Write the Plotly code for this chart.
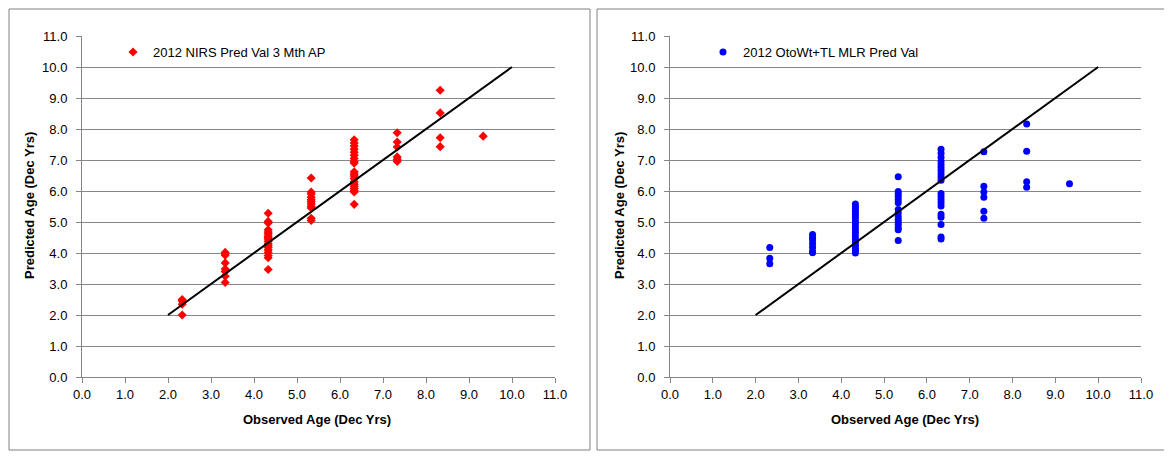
import plotly.graph_objects as go

# page body has an 8px margin; figure fills the rest of the 1172x457 window
OFF = 8
W, H = 1164, 449

# Observed age classes (Dec Yrs)
obs_ages = [2.33, 3.33, 4.33, 5.33, 6.33, 7.33, 8.33, 9.33]

# 2012 NIRS Pred Val 3 Mth AP: predicted ages per observed age class
nirs_pred = [
    [2.5, 2.45, 2.35, 2.0],
    [4.02, 3.97, 3.93, 3.68, 3.48, 3.40, 3.25, 3.05],
    [5.28, 5.02, 4.97, 4.75, 4.68, 4.62, 4.55, 4.50, 4.45, 4.38, 4.30, 4.25,
     4.18, 4.10, 4.02, 3.92, 3.85, 3.47],
    [6.42, 5.97, 5.90, 5.80, 5.72, 5.65, 5.58, 5.50, 5.45, 5.12, 5.05],
    [7.65, 7.55, 7.45, 7.35, 7.25, 7.15, 7.05, 6.95, 6.90, 6.62, 6.55, 6.48,
     6.40, 6.30, 6.22, 6.15, 6.08, 6.02, 5.97, 5.57],
    [7.88, 7.58, 7.42, 7.10, 7.02, 6.95],
    [9.25, 8.52, 7.72, 7.43],
    [7.77],
]

# 2012 OtoWt+TL MLR Pred Val: predicted ages per observed age class
mlr_pred = [
    [4.18, 3.83, 3.65],
    [4.60, 4.50, 4.42, 4.30, 4.18, 4.05, 4.01],
    [5.58, 5.50, 5.42, 5.35, 5.25, 5.15, 5.05, 4.95, 4.85, 4.75, 4.65, 4.55,
     4.45, 4.35, 4.25, 4.15, 4.07, 4.00],
    [6.46, 5.98, 5.90, 5.82, 5.72, 5.62, 5.40, 5.30, 5.18, 5.08, 5.00, 4.92,
     4.82, 4.75, 4.40],
    [7.35, 7.22, 7.08, 6.95, 6.85, 6.75, 6.65, 6.55, 6.45, 6.35, 5.92, 5.82,
     5.72, 5.62, 5.52, 5.25, 5.15, 4.92, 4.52, 4.45],
    [7.27, 6.15, 5.97, 5.80, 5.35, 5.12],
    [8.16, 7.28, 6.30, 6.12],
    [6.23],
]

# 1:1 reference line
line_x = [2, 10]
line_y = [2, 10]

tick_vals = [i for i in range(12)]
tick_text = [f"{v:.1f}" for v in tick_vals]

def flatten(groups):
    xs, ys = [], []
    for a, g in zip(obs_ages, groups):
        for v in g:
            xs.append(a)
            ys.append(v)
    return xs, ys

nx, ny = flatten(nirs_pred)
mx, my = flatten(mlr_pred)

def PX(x):
    return (x - OFF) / W

def PY(y):
    return 1 - (y - OFF) / H

FONT = "Liberation Sans"
GRID = "#868686"

fig = go.Figure()

fig.add_trace(go.Scatter(x=nx, y=ny, mode="markers", name="2012 NIRS Pred Val 3 Mth AP",
                         marker=dict(symbol="diamond", size=7, color="#ff0000"),
                         xaxis="x", yaxis="y", legend="legend"))
fig.add_trace(go.Scatter(x=line_x, y=line_y, mode="lines", showlegend=False,
                         line=dict(color="#000000", width=2), xaxis="x", yaxis="y"))

fig.add_trace(go.Scatter(x=mx, y=my, mode="markers", name="2012 OtoWt+TL MLR Pred Val",
                         marker=dict(symbol="circle", size=7, color="#0000ff"),
                         xaxis="x2", yaxis="y2", legend="legend2"))
fig.add_trace(go.Scatter(x=line_x, y=line_y, mode="lines", showlegend=False,
                         line=dict(color="#000000", width=2), xaxis="x2", yaxis="y2"))

def xa(domain, anchor):
    return dict(domain=domain, anchor=anchor, range=[0, 11], tickmode="array",
                tickvals=tick_vals, ticktext=tick_text, showgrid=False, zeroline=False,
                showline=True, linecolor=GRID, linewidth=1, ticks="outside", ticklen=5,
                tickcolor=GRID, automargin=False,
                tickfont=dict(family=FONT, size=13, color="#000"))

def ya(domain, anchor):
    return dict(domain=domain, anchor=anchor, range=[0, 11], tickmode="array",
                tickvals=tick_vals, ticktext=tick_text, showgrid=True, gridcolor=GRID,
                gridwidth=1, zeroline=False, showline=True, linecolor=GRID, linewidth=1,
                ticks="outside", ticklen=5, tickcolor=GRID, automargin=False,
                ticklabelstandoff=6,
                tickfont=dict(family=FONT, size=13, color="#000"))

ydom = [PY(377), PY(36)]
x1dom = [PX(82), PX(555)]
x2dom = [PX(670), PX(1141)]

legend_common = dict(bgcolor="rgba(0,0,0,0)", font=dict(family=FONT, size=13, color="#000"),
                     xanchor="left", yanchor="middle")

def title_ann(text, x, y, angle=0):
    return dict(text=f"<b>{text}</b>", xref="paper", yref="paper", x=PX(x), y=PY(y),
                xanchor="center", yanchor="middle", showarrow=False, textangle=angle,
                font=dict(family=FONT, size=13, color="#000"))

fig.update_layout(
    width=W, height=H,
    margin=dict(l=0, r=0, t=0, b=0, autoexpand=False),
    paper_bgcolor="white", plot_bgcolor="white",
    xaxis=xa(x1dom, "y"), yaxis=ya(ydom, "x"),
    xaxis2=xa(x2dom, "y2"), yaxis2=ya(ydom, "x2"),
    legend=dict(x=PX(113), y=PY(52), **legend_common),
    legend2=dict(x=PX(703), y=PY(52), **legend_common),
    shapes=[
        dict(type="rect", xref="paper", yref="paper", x0=PX(9), x1=PX(590),
             y0=PY(450), y1=PY(9), line=dict(color="#808080", width=1)),
        dict(type="rect", xref="paper", yref="paper", x0=PX(597), x1=PX(1168),
             y0=PY(450), y1=PY(9), line=dict(color="#808080", width=1)),
    ],
    annotations=[
        title_ann("Observed Age (Dec Yrs)", 317, 419),
        title_ann("Predicted Age (Dec Yrs)", 30, 206, -90),
        title_ann("Observed Age (Dec Yrs)", 905, 419),
        title_ann("Predicted Age (Dec Yrs)", 620, 206, -90),
    ],
)

fig.write_html("out.html")
